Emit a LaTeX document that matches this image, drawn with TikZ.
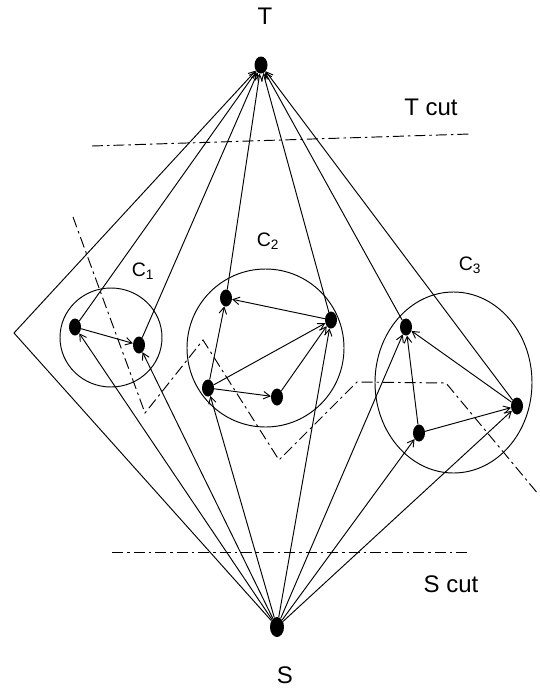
\documentclass[tikz,border=0pt]{standalone}
\usepackage{fontspec}
\setmainfont{Liberation Sans}
\usetikzlibrary{arrows.meta,shapes.geometric}
\begin{document}
\begin{tikzpicture}[x=1pt,y=-1pt,
  vtx/.style={ellipse,fill=black,draw=none,minimum width=12pt,minimum height=17pt,inner sep=0pt},
  arc/.style={line width=0.95pt,-{Straight Barb[length=6.5pt,width=7.5pt]}},
  cutline/.style={line width=0.95pt,dash pattern=on 11pt off 4pt on 2.5pt off 4pt},
  clus/.style={draw,ellipse,line width=0.95pt,inner sep=0pt},
  lab/.style={font=\fontsize{24}{28}\selectfont,inner sep=0pt},
  clab/.style={font=\fontsize{19.5}{23}\selectfont,inner sep=0pt}]
\useasboundingbox (0,0) rectangle (539,689);
% clusters
\node[clus,minimum width=102pt,minimum height=99pt] (C1) at (111,337.5) {};
\node[clus,minimum width=157pt,minimum height=158pt] (C2) at (265.5,348) {};
\node[clus,minimum width=157pt,minimum height=181pt] (C3) at (453.5,382.5) {};
% vertices
\node[vtx,minimum width=13pt] (T) at (261,65) {};
\node[vtx,minimum width=14pt,minimum height=20pt] (S) at (277,627) {};
\node[vtx] (a1) at (75,327) {};
\node[vtx] (a2) at (139,345) {};
\node[vtx] (b1) at (226,298) {};
\node[vtx] (b2) at (331,320) {};
\node[vtx] (b3) at (208,388) {};
\node[vtx] (b4) at (277,397) {};
\node[vtx] (c1) at (406,327) {};
\node[vtx] (c2) at (517,406) {};
\node[vtx] (c3) at (419,433) {};
\coordinate (P) at (14,333);
% labels
\node[lab] (Tl) at (265,16) {T};
\node[lab] (Sl) at (285,675) {S};
\node[lab] (Tc) at (431,107) {T cut};
\node[lab] (Sc) at (451,584) {S cut};
\node[clab] (C1l) at (143,271) {C\textsubscript{1}};
\node[clab] (C2l) at (268,241) {C\textsubscript{2}};
\node[clab] (C3l) at (470,265) {C\textsubscript{3}};
% cuts
\coordinate (tc1) at (92,146); \coordinate (tc2) at (470,134);
\coordinate (sc1) at (112,552); \coordinate (sc2) at (468,552);
\draw[cutline] (tc1) -- (tc2);
\draw[cutline] (sc1) -- (sc2);
\coordinate (z1) at (73,217); \coordinate (z2) at (145,413);
\coordinate (z3) at (203,340); \coordinate (z4) at (279,460);
\coordinate (z5) at (357,382); \coordinate (z6) at (446,383);
\coordinate (z7) at (539,495);
\draw[cutline] (z1) -- (z2) -- (z3) -- (z4) -- (z5) -- (z6) -- (z7);
% edges from S
\draw[arc] (S) -- (P) -- (T);
\draw[arc] (S) -- (a1);
\draw[arc] (S) -- (a2);
\draw[arc] (S) -- (b3);
\draw[arc] (S) -- (b2);
\draw[arc] (S) -- (c1);
\draw[arc] (S) -- (c3);
\draw[arc] (S) -- (c2);
% edges to T
\draw[arc] (a1) -- (T);
\draw[arc] (a2) -- (T);
\draw[arc] (b1) -- (T);
\draw[arc] (b2) -- (T);
\draw[arc] (c1) -- (T);
\draw[arc] (c2) -- (T);
% inner edges
\draw[arc] (a1) -- (a2);
\draw[arc] (b2) -- (b1);
\draw[arc] (b3) -- (b1);
\draw[arc] (b3) -- (b2);
\draw[arc] (b3) -- (b4);
\draw[arc] (b4) -- (b2);
\draw[arc] (c2) -- (c1);
\draw[arc] (c3) -- (c1);
\draw[arc] (c3) -- (c2);
\end{tikzpicture}
\end{document}
